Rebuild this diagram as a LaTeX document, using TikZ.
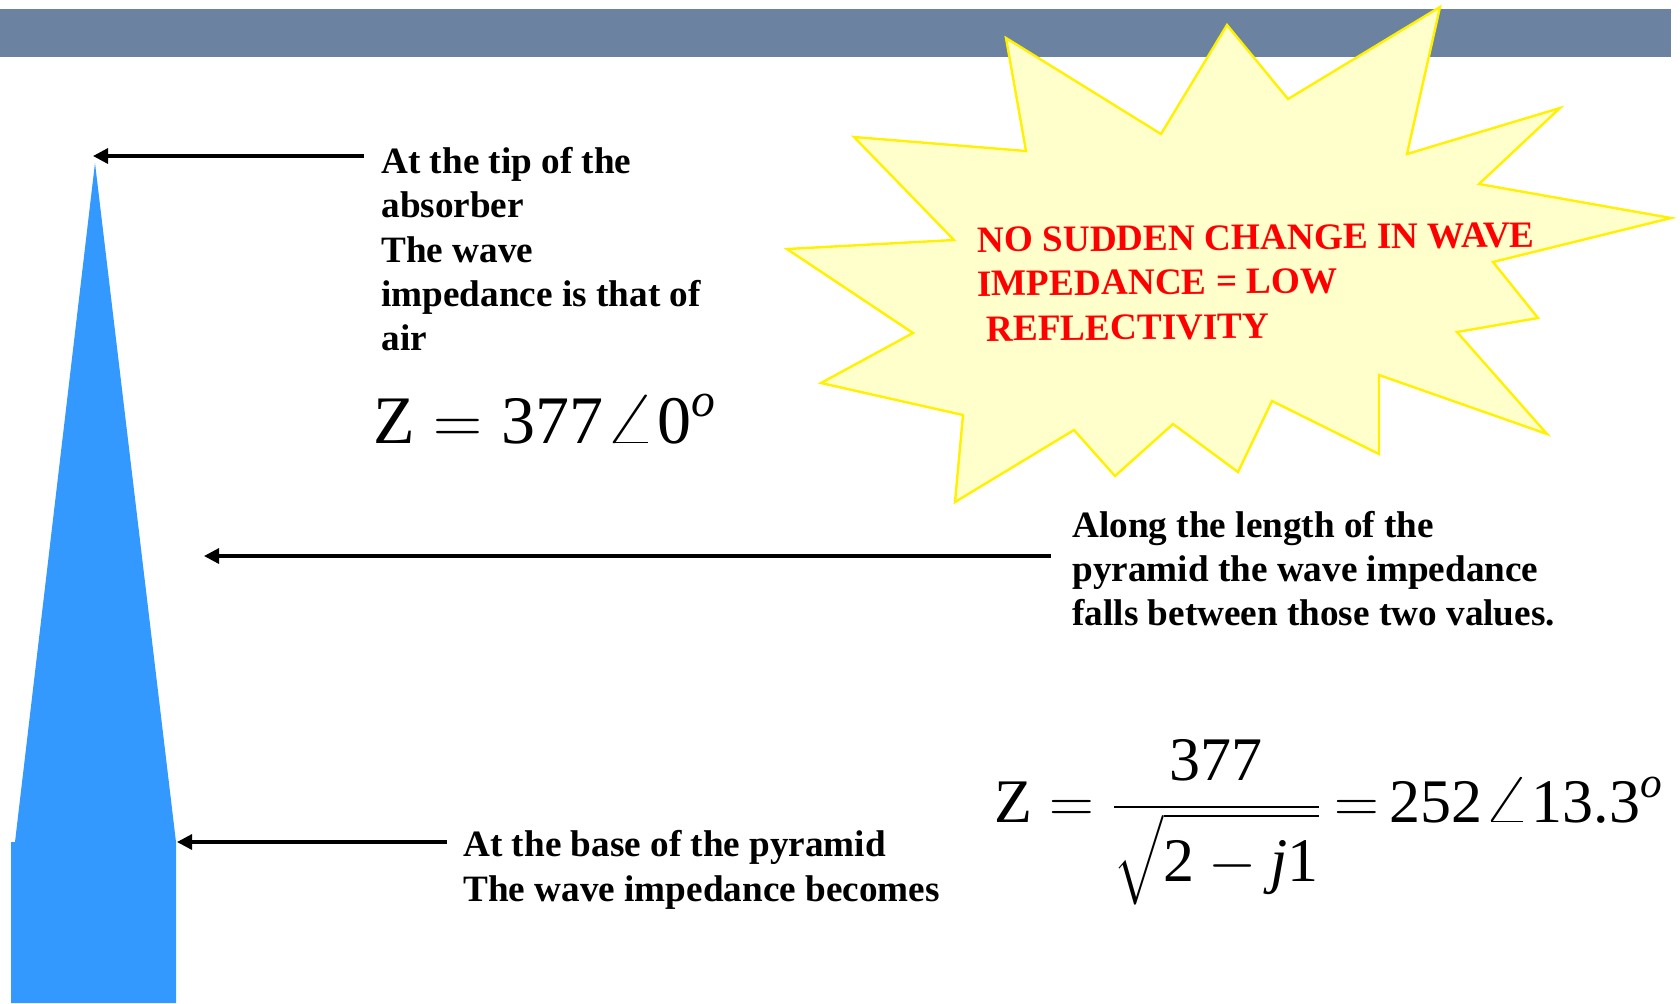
\RequirePackage{fix-cm}
\documentclass[tikz,border=0pt]{standalone}
\usepackage{amsmath}
\usepackage{graphicx}
\usepackage{fontspec}
\setmainfont{Liberation Serif}
\usetikzlibrary{arrows.meta}

\definecolor{barblue}{RGB}{107,130,160}
\definecolor{pyrblue}{RGB}{51,153,255}
\definecolor{burstfill}{RGB}{255,255,204}

% a wider angle sign, as in the slide
\newcommand{\wideangle}{\mathord{\scalebox{1.45}[1.1]{$\angle$}}}

\begin{document}
\begin{tikzpicture} [x=0.5pt, y=-0.5pt,
	note/.style={anchor=base west, inner sep=0pt, font=\fontsize{18.6}{22}\selectfont\bfseries},
	burstnote/.style={note, text=red, rotate=0.5},
	eqn/.style={anchor=base west, inner sep=0pt},
	pointer/.style={line width=1.6pt, -{Triangle[length=7.5pt,width=7.5pt]}}]

\useasboundingbox (0,0) rectangle (1680,1003);

% title bar
\fill [barblue] (0,9) rectangle (1671,57);

% pyramid absorber
\fill [pyrblue] (15,842) -- (95,163) -- (176,842) -- (176,1003) -- (11,1003) -- (11,842) -- cycle;

% explosion
\filldraw [fill=burstfill, draw=yellow, line width=1.2pt]
	(1006,38) -- (1026,151) -- (854,137) -- (954,240) -- (787,249) -- (913,333)
	-- (821,383) -- (963,415) -- (955,502) -- (1074,430) -- (1115,476) -- (1173,424)
	-- (1238,472) -- (1272,401) -- (1379,454) -- (1379,375) -- (1547,434) -- (1457,332)
	-- (1538,318) -- (1493,262) -- (1671,218) -- (1479,184) -- (1560,108) -- (1407,154)
	-- (1440,7) -- (1288,99) -- (1227,25) -- (1161,134) -- cycle;

% text in the explosion
\draw	(977,252) node[burstnote] (burst1) {NO SUDDEN CHANGE IN WAVE}
		(977,296) node[burstnote] (burst2) {IMPEDANCE = LOW}
		(986,341) node[burstnote] (burst3) {REFLECTIVITY};

% tip of the absorber
\draw	(381,173) node[note] (tip1) {At the tip of the}
		(381,217.5) node[note] (tip2) {absorber}
		(381,262) node[note] (tip3) {The wave}
		(381,306) node[note] (tip4) {impedance is that of}
		(381,350.5) node[note] (tip5) {air};
\draw (373,443) node[eqn, font=\fontsize{34}{40}\selectfont] (zair)
	{$\text{Z} = \text{377}\wideangle\text{0}^{\text{\itshape o}}$};

% along the length
\draw	(1072,537) node[note] (len1) {Along the length of the}
		(1072,581) node[note] (len2) {pyramid the wave impedance}
		(1072,625) node[note] (len3) {falls between those two values.};

% base of the pyramid
\draw	(463,856) node[note] (base1) {At the base of the pyramid}
		(463,901) node[note] (base2) {The wave impedance becomes};
\draw (994,822) node[eqn, font=\fontsize{31}{36}\selectfont] (zbase)
	{$\text{Z} = \dfrac{\text{377}}{\sqrt{\text{2} - \text{\itshape j}\text{1}\rule[-0.25em]{0pt}{1.1em}}}
	\mkern-1mu=\mkern-2mu \text{252}\wideangle\text{13.3}^{\text{\itshape o}}$};

% arrows
\coordinate (tipfrom) at (364,156);
\coordinate (apex) at (93,156);
\coordinate (lenfrom) at (1051,556);
\coordinate (side) at (204,556);
\coordinate (basefrom) at (447,842);
\coordinate (foot) at (177,842);

\draw [pointer] (tipfrom) -- (apex);
\draw [pointer] (lenfrom) -- (side);
\draw [pointer] (basefrom) -- (foot);

\end{tikzpicture}
\end{document}
